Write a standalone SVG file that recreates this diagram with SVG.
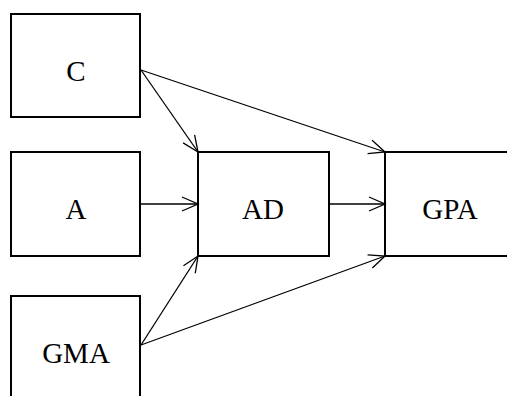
<svg xmlns="http://www.w3.org/2000/svg" width="507" height="396" viewBox="0 0 507 396">
<style>
.box{fill:#fff;stroke:#000;stroke-width:2}
.lbl{font-family:"Liberation Serif","Times New Roman",serif;font-size:29px;fill:#000;text-anchor:middle}
.edge{stroke:#000;stroke-width:1.3;fill:none;marker-end:url(#arr)}
</style>
<defs>
<marker id="arr" viewBox="0 0 20 20" refX="18" refY="10" markerWidth="20" markerHeight="20" markerUnits="userSpaceOnUse" orient="auto">
<path d="M2,3 L18,10 L2,17" fill="none" stroke="#000" stroke-width="1.3"/>
</marker>
</defs>
<rect width="507" height="396" fill="#fff"/>
<g id="node-C"><rect class="box" x="11" y="14" width="129" height="103"/><text class="lbl" x="76" y="81">C</text></g>
<g id="node-A"><rect class="box" x="11" y="152" width="129" height="104"/><text class="lbl" x="76" y="219">A</text></g>
<g id="node-GMA"><rect class="box" x="11" y="296" width="129" height="110"/><text class="lbl" x="76" y="363">GMA</text></g>
<g id="node-AD"><rect class="box" x="198" y="152" width="131" height="104"/><text class="lbl" x="263" y="219">AD</text></g>
<g id="node-GPA"><rect class="box" x="385" y="152" width="130" height="104"/><text class="lbl" x="450" y="219">GPA</text></g>
<g id="connectors">
<line class="edge" x1="141" y1="70" x2="198" y2="152"/>
<line class="edge" x1="141" y1="70" x2="385" y2="152"/>
<line class="edge" x1="140" y1="204" x2="198" y2="204"/>
<line class="edge" x1="329" y1="204" x2="385" y2="204"/>
<line class="edge" x1="141" y1="345" x2="198" y2="256"/>
<line class="edge" x1="141" y1="345" x2="385" y2="256"/>
</g>
</svg>
